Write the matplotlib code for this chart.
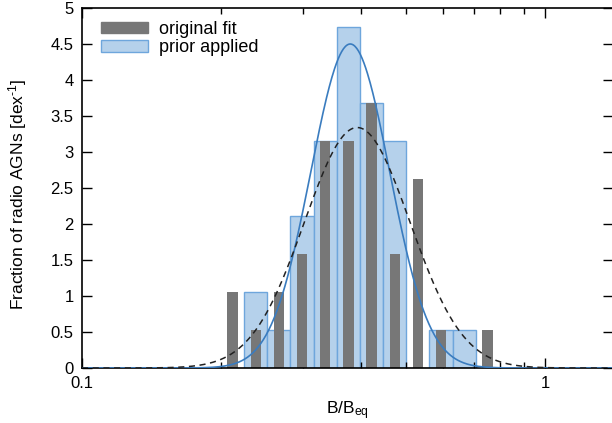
import numpy as np
import matplotlib
matplotlib.use("Agg")
import matplotlib.pyplot as plt
import matplotlib.patches as mpatches
from matplotlib.ticker import FixedLocator, LogLocator, NullFormatter

plt.rcParams["font.family"] = ["Liberation Sans", "DejaVu Sans"]
plt.rcParams["mathtext.fontset"] = "custom"
plt.rcParams["mathtext.rm"] = "Liberation Sans"
plt.rcParams["mathtext.it"] = "Liberation Sans:italic"

# bin width in dex and sample size used for normalisation
BIN_DEX = 0.05
N_SOURCES = 38

# "prior applied" histogram: bin edges in log10(B/Beq) and counts
prior_edges = [-0.65, -0.60, -0.55, -0.50, -0.45, -0.40, -0.35, -0.30, -0.25, -0.20, -0.15]
prior_counts = [2, 1, 4, 6, 9, 7, 6, 0, 1, 1]

# "original fit" histogram: bin centres in log10(B/Beq) and counts
orig_centres = [-0.675, -0.625, -0.575, -0.525, -0.475, -0.425, -0.375, -0.325,
                -0.275, -0.225, -0.175, -0.125]
orig_counts = [2, 1, 2, 3, 6, 6, 7, 3, 5, 1, 0, 1]

# gaussian fits in log space: (peak, centre, sigma)
prior_fit = (4.5, -0.421, 0.085)
orig_fit = (3.34, -0.406, 0.114)

GRAY = "#777777"
BLUE_FILL = "#b5d1eb"
BLUE_EDGE = "#6ea6dc"
BLUE_LINE = "#3a7cbf"

fig = plt.figure(figsize=(6.12, 4.23), dpi=100)
ax = fig.add_axes([82 / 612, 55 / 423, 531 / 612, 360 / 423])
ax.set_xscale("log")

# blue histogram (wide bins, touching)
edges = np.array(prior_edges)
dens = np.array(prior_counts) / (N_SOURCES * BIN_DEX)
left = 10 ** edges[:-1]
width = 10 ** edges[1:] - left
ax.bar(left, dens, width=width, align="edge", color=BLUE_FILL,
       edgecolor=BLUE_EDGE, linewidth=1.0, zorder=1)

# gray histogram (narrow bars at shifted centres)
c = np.array(orig_centres)
dens_o = np.array(orig_counts) / (N_SOURCES * BIN_DEX)
half = 0.0112
left_o = 10 ** (c - half)
width_o = 10 ** (c + half) - left_o
ax.bar(left_o, dens_o, width=width_o, align="edge", color=GRAY,
       linewidth=0, zorder=2)

# fitted curves
lx = np.linspace(-1.0, 0.15, 600)
amp, mu, sig = prior_fit
ax.plot(10 ** lx, amp * np.exp(-0.5 * ((lx - mu) / sig) ** 2),
        color=BLUE_LINE, lw=1.2, zorder=3)
amp, mu, sig = orig_fit
ax.plot(10 ** lx, amp * np.exp(-0.5 * ((lx - mu) / sig) ** 2),
        color="#222222", lw=1.1, ls=(0, (4, 3)), zorder=3)

ax.set_xlim(0.1, 1.4)
ax.set_ylim(0, 5)
ax.set_yticks(np.arange(0, 5.01, 0.5))
ax.set_yticklabels(["%g" % v for v in np.arange(0, 5.01, 0.5)])
ax.xaxis.set_major_locator(FixedLocator([0.1, 1]))
ax.set_xticklabels(["0.1", "1"])
ax.xaxis.set_minor_locator(LogLocator(base=10, subs=np.arange(2, 10)))
ax.xaxis.set_minor_formatter(NullFormatter())

ax.tick_params(which="both", direction="in", top=True, right=True,
               labelsize=12, pad=6, width=1.0)
ax.tick_params(which="major", length=7)
ax.tick_params(which="minor", length=4)
for s in ax.spines.values():
    s.set_linewidth(1.2)

ax.set_xlabel("B/B$_{\\rm eq}$", fontsize=12.5, labelpad=6)
ax.set_ylabel("Fraction of radio AGNs [dex$^{\\rm \u20101}$]", fontsize=12.5)
ax.yaxis.set_label_coords(-0.10, 0.483)

handles = [
    mpatches.Patch(facecolor=GRAY, edgecolor=GRAY, label="original fit"),
    mpatches.Patch(facecolor=BLUE_FILL, edgecolor=BLUE_EDGE, label="prior applied"),
]
ax.legend(handles=handles, loc="upper left", frameon=False, fontsize=13,
          handlelength=2.6, handleheight=0.6, handletextpad=0.6,
          labelspacing=0.1, borderaxespad=0.3, bbox_to_anchor=(0.012, 1.0))

fig.savefig("out.png", dpi=100)
